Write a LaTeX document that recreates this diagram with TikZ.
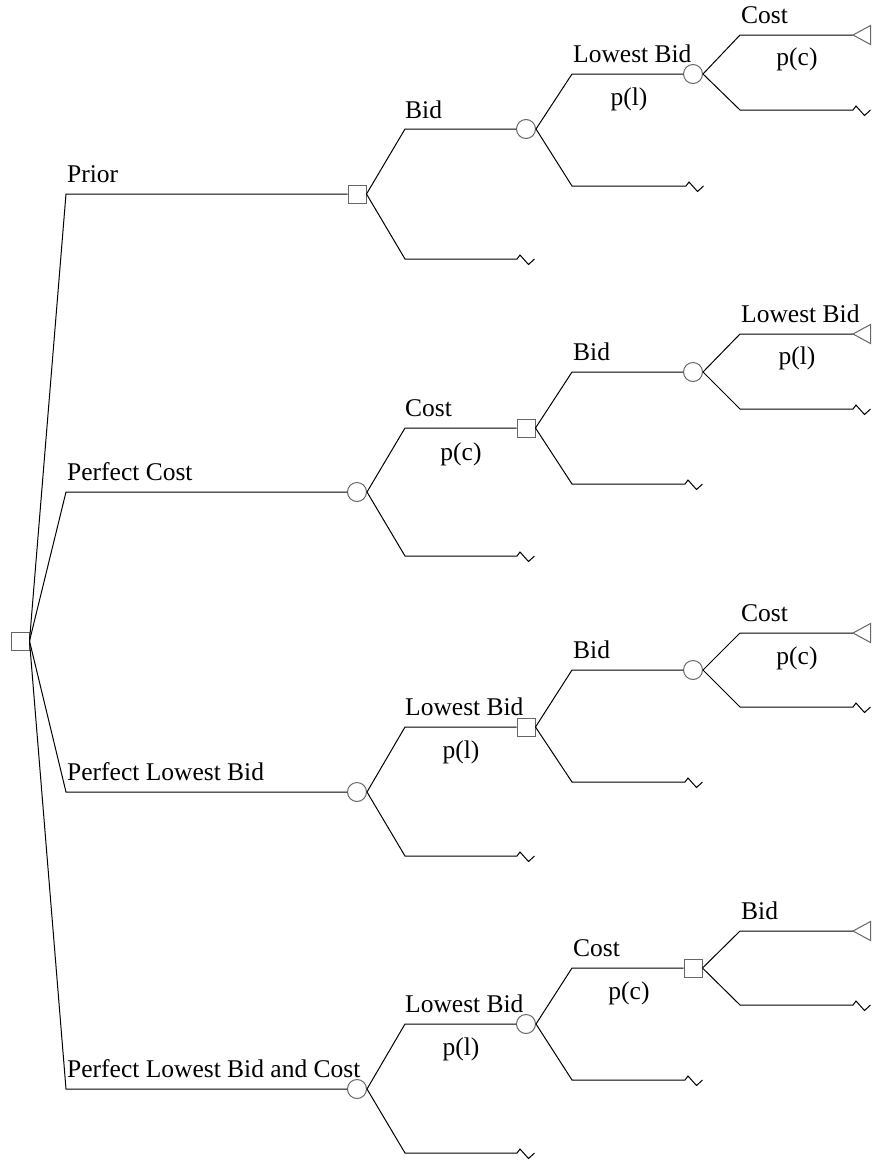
\documentclass[tikz,border=0pt]{standalone}
\usepackage{fontspec}
\setmainfont{Liberation Serif}
\begin{document}
\begin{tikzpicture}[x=1pt,y=-1pt,
  every node/.style={inner sep=0pt},
  conn/.style={draw=black, line width=1pt, line join=miter},
  dec/.style={draw=black!60, line width=1pt, rectangle, minimum size=18pt, fill=white},
  chn/.style={draw=black!60, line width=1pt, circle, minimum size=19pt, fill=white},
  trm/.style={draw=black!60, line width=1pt, fill=white},
  lbl/.style={anchor=base west, font=\fontsize{25.5}{30}\selectfont},
  plbl/.style={anchor=base, font=\fontsize{25.5}{30}\selectfont}]
\useasboundingbox (0,0) rectangle (878,1160);
\newcommand\zigz{-- ++(3,-4) -- ++(8.5,9.5) -- ++(6,-5.5)}
\newcommand\tri[1]{\draw[trm] (#1) -- ++(17.5,-9.5) -- ++(0,19) -- cycle;}

% root
\node[dec] (R) at (20,641) {};

% ---------------- Tree A : Prior
\coordinate (a0) at (66,194);
\node[dec] (A1) at (357,194) {};
\coordinate (A1u) at (405,129);
\coordinate (A1d) at (405,259);
\coordinate (A1z) at (517,259);
\node[chn] (A2) at (526,129) {};
\coordinate (A2u) at (572,74);
\coordinate (A2d) at (572,186);
\coordinate (A2z) at (686,186);
\node[chn] (A3) at (693,74) {};
\coordinate (A3u) at (740,35);
\coordinate (A3d) at (740,110);
\coordinate (A3z) at (853,110);
\coordinate (A3t) at (853,35);
\draw[conn] (R.east) -- (a0) -- (A1);
\draw[conn] (A1.east) -- (A1u) -- (A2);
\draw[conn] (A1.east) -- (A1d) -- (A1z) \zigz;
\draw[conn] (A2.east) -- (A2u) -- (A3);
\draw[conn] (A2.east) -- (A2d) -- (A2z) \zigz;
\draw[conn] (A3.east) -- (A3u) -- (A3t);
\draw[conn] (A3.east) -- (A3d) -- (A3z) \zigz;
\tri{A3t}
\node[lbl] (lA0) at (67,182.5) {Prior};
\node[lbl] (lA1) at (405,118) {Bid};
\node[lbl] (lA2) at (573,62.5) {Lowest Bid};
\node[plbl] (pA2) at (629,105) {p(l)};
\node[lbl] (lA3) at (741,23.5) {Cost};
\node[plbl] (pA3) at (797,65.5) {p(c)};

% ---------------- Tree B : Perfect Cost
\coordinate (b0) at (66,492);
\node[chn] (B1) at (357,492) {};
\coordinate (B1u) at (405,428);
\coordinate (B1d) at (405,556);
\coordinate (B1z) at (517,556);
\node[dec] (B2) at (526,428) {};
\coordinate (B2u) at (572,372);
\coordinate (B2d) at (572,484);
\coordinate (B2z) at (685,484);
\node[chn] (B3) at (693,372) {};
\coordinate (B3u) at (740,334);
\coordinate (B3d) at (740,409);
\coordinate (B3z) at (853,409);
\coordinate (B3t) at (853,334);
\draw[conn] (R.east) -- (b0) -- (B1);
\draw[conn] (B1.east) -- (B1u) -- (B2);
\draw[conn] (B1.east) -- (B1d) -- (B1z) \zigz;
\draw[conn] (B2.east) -- (B2u) -- (B3);
\draw[conn] (B2.east) -- (B2d) -- (B2z) \zigz;
\draw[conn] (B3.east) -- (B3u) -- (B3t);
\draw[conn] (B3.east) -- (B3d) -- (B3z) \zigz;
\tri{B3t}
\node[lbl] (lB0) at (67,480.5) {Perfect Cost};
\node[lbl] (lB1) at (405,416.5) {Cost};
\node[plbl] (pB1) at (461,460) {p(c)};
\node[lbl] (lB2) at (573,360.5) {Bid};
\node[lbl] (lB3) at (741,322.5) {Lowest Bid};
\node[plbl] (pB3) at (797,364) {p(l)};

% ---------------- Tree C : Perfect Lowest Bid
\coordinate (c0) at (66,792);
\node[chn] (C1) at (357,792) {};
\coordinate (C1u) at (405,727);
\coordinate (C1d) at (405,856);
\coordinate (C1z) at (517,856);
\node[dec] (C2) at (526,727) {};
\coordinate (C2u) at (572,670);
\coordinate (C2d) at (572,782);
\coordinate (C2z) at (685,782);
\node[chn] (C3) at (693,670) {};
\coordinate (C3u) at (740,633);
\coordinate (C3d) at (740,707);
\coordinate (C3z) at (853,707);
\coordinate (C3t) at (853,633);
\draw[conn] (R.east) -- (c0) -- (C1);
\draw[conn] (C1.east) -- (C1u) -- (C2);
\draw[conn] (C1.east) -- (C1d) -- (C1z) \zigz;
\draw[conn] (C2.east) -- (C2u) -- (C3);
\draw[conn] (C2.east) -- (C2d) -- (C2z) \zigz;
\draw[conn] (C3.east) -- (C3u) -- (C3t);
\draw[conn] (C3.east) -- (C3d) -- (C3z) \zigz;
\tri{C3t}
\node[lbl] (lC0) at (67,780.5) {Perfect Lowest Bid};
\node[lbl] (lC1) at (405,715.5) {Lowest Bid};
\node[plbl] (pC1) at (461,758) {p(l)};
\node[lbl] (lC2) at (573,658.5) {Bid};
\node[lbl] (lC3) at (741,621.5) {Cost};
\node[plbl] (pC3) at (797,664) {p(c)};

% ---------------- Tree D : Perfect Lowest Bid and Cost
\coordinate (d0) at (66,1089);
\node[chn] (D1) at (357,1089) {};
\coordinate (D1u) at (405,1024);
\coordinate (D1d) at (405,1153);
\coordinate (D1z) at (517,1153);
\node[chn] (D2) at (526,1024) {};
\coordinate (D2u) at (572,968);
\coordinate (D2d) at (572,1080);
\coordinate (D2z) at (685,1080);
\node[dec] (D3) at (693,968) {};
\coordinate (D3u) at (740,931);
\coordinate (D3d) at (740,1005);
\coordinate (D3z) at (853,1005);
\coordinate (D3t) at (853,931);
\draw[conn] (R.east) -- (d0) -- (D1);
\draw[conn] (D1.east) -- (D1u) -- (D2);
\draw[conn] (D1.east) -- (D1d) -- (D1z) \zigz;
\draw[conn] (D2.east) -- (D2u) -- (D3);
\draw[conn] (D2.east) -- (D2d) -- (D2z) \zigz;
\draw[conn] (D3.east) -- (D3u) -- (D3t);
\draw[conn] (D3.east) -- (D3d) -- (D3z) \zigz;
\tri{D3t}
\node[lbl] (lD0) at (67,1077.5) {Perfect Lowest Bid and Cost};
\node[lbl] (lD1) at (405,1012.5) {Lowest Bid};
\node[plbl] (pD1) at (461,1055) {p(l)};
\node[lbl] (lD2) at (573,956.5) {Cost};
\node[plbl] (pD2) at (629,999) {p(c)};
\node[lbl] (lD3) at (741,919.5) {Bid};
\end{tikzpicture}
\end{document}
